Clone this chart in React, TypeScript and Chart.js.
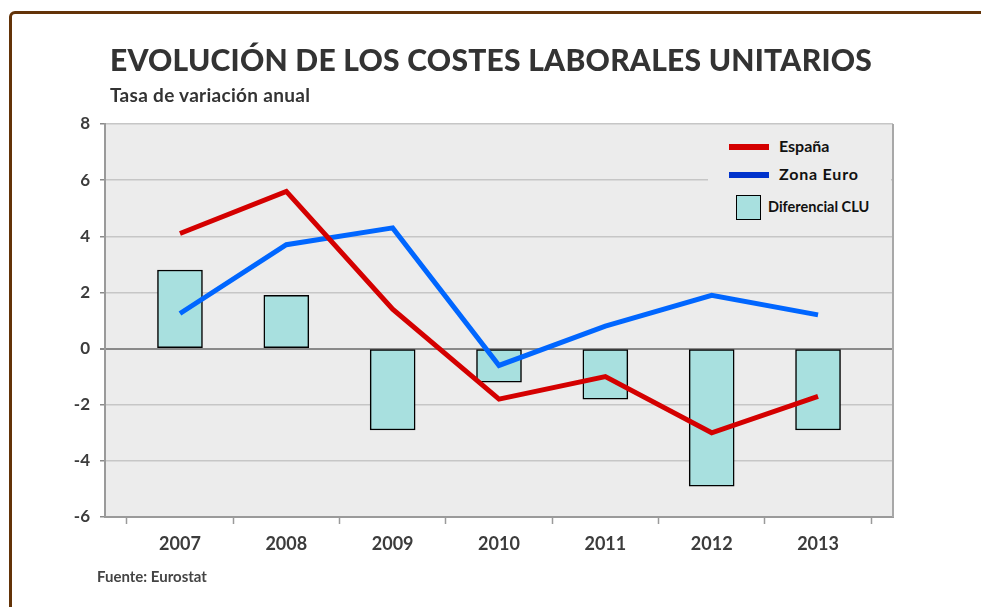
import React, { useEffect, useRef } from 'react';
import { Chart, registerables } from 'chart.js';

Chart.register(...registerables);

const years = ['2007', '2008', '2009', '2010', '2011', '2012', '2013'];
const espana = [4.1, 5.6, 1.4, -1.8, -1.0, -3.0, -1.7];
const zonaEuro = [1.25, 3.7, 4.3, -0.6, 0.8, 1.9, 1.2];
const diferencial = [2.8, 1.9, -2.9, -1.2, -1.8, -4.9, -2.9];
const yTickValues = [-6, -4, -2, 0, 2, 4, 6, 8];

const FONT = 'Lato, "Open Sans", sans-serif';
const TEXT = '#3c3c3c';

const plotBg = {
  id: 'plotBg',
  beforeDraw(chart: any) {
    const { ctx, chartArea: a } = chart;
    ctx.save();
    ctx.fillStyle = '#ececec';
    ctx.fillRect(a.left, a.top, a.right - a.left, a.bottom - a.top);
    ctx.restore();
  },
  afterDraw(chart: any) {
    const { ctx, chartArea: a } = chart;
    ctx.save();
    ctx.strokeStyle = '#a8a8a8';
    ctx.lineWidth = 2;
    ctx.beginPath();
    ctx.moveTo(a.right, a.top);
    ctx.lineTo(a.right, a.bottom);
    ctx.stroke();
    ctx.restore();
  },
};

function ChartCanvas() {
  const ref = useRef<HTMLCanvasElement | null>(null);
  useEffect(() => {
    if (!ref.current) return;
    const xTicks: number[] = [];
    for (let i = -0.5; i <= years.length - 0.5; i += 0.5) xTicks.push(i);
    const chart = new Chart(ref.current, {
      type: 'bar',
      data: {
        datasets: [
          {
            type: 'line',
            label: 'España',
            data: espana.map((v, i) => ({ x: i, y: v })),
            borderColor: '#d40000',
            borderWidth: 5,
            pointRadius: 0,
            tension: 0,
            borderCapStyle: 'butt',
            order: 0,
          } as any,
          {
            type: 'line',
            label: 'Zona Euro',
            data: zonaEuro.map((v, i) => ({ x: i, y: v })),
            borderColor: '#0066ff',
            borderWidth: 5,
            pointRadius: 0,
            tension: 0,
            borderCapStyle: 'butt',
            order: 1,
          } as any,
          {
            type: 'bar',
            label: 'Diferencial CLU',
            data: diferencial.map((v, i) => ({ x: i, y: v })),
            backgroundColor: '#a8e0df',
            borderColor: '#000000',
            borderWidth: 1.5,
            borderSkipped: false,
            barThickness: 45,
            grouped: false,
            order: 2,
          } as any,
        ],
      },
      options: {
        animation: false,
        responsive: true,
        maintainAspectRatio: false,
        layout: { padding: { left: 0, top: 124, right: 88, bottom: 0 } },
        plugins: {
          legend: { display: false },
          title: { display: false },
          tooltip: { enabled: false },
        },
        scales: {
          x: {
            type: 'linear',
            min: -0.705,
            max: years.length - 1 + 0.705,
            offset: false,
            afterBuildTicks: (s: any) => {
              s.ticks = xTicks.map((v) => ({ value: v }));
            },
            afterFit: (s: any) => {
              s.height = 90;
            },
            grid: {
              offset: false,
              drawOnChartArea: false,
              drawTicks: true,
              tickLength: 7,
              tickWidth: 1.5,
              tickColor: (c: any) =>
                c.tick && Number.isInteger(c.tick.value) ? 'rgba(0,0,0,0)' : '#9a9a9a',
            },
            border: { display: true, color: '#9a9a9a', width: 2 },
            ticks: {
              autoSkip: false,
              maxRotation: 0,
              padding: 9,
              color: TEXT,
              font: { family: FONT, weight: 'bold', size: 18 },
              callback: (v: any) => (Number.isInteger(v) ? years[v] : ''),
            },
          },
          y: {
            type: 'linear',
            min: -6,
            max: 8,
            afterBuildTicks: (s: any) => {
              s.ticks = yTickValues.map((v) => ({ value: v }));
            },
            afterFit: (s: any) => {
              s.width = 105;
            },
            grid: {
              color: (c: any) => (c.tick && c.tick.value === 0 ? '#8a8a8a' : '#c6c6c6'),
              lineWidth: (c: any) => (c.tick && c.tick.value === 0 ? 2 : 1.5),
              tickColor: '#8a8a8a',
              tickLength: 5,
              drawTicks: true,
            },
            border: { display: true, color: '#9a9a9a', width: 2 },
            ticks: {
              padding: 10,
              color: TEXT,
              font: { family: FONT, weight: 'bold', size: 17 },
            },
          },
        },
      },
      plugins: [plotBg],
    } as any);
    return () => chart.destroy();
  }, []);
  return <canvas ref={ref} />;
}

export default function App() {
  const abs = (o: any): React.CSSProperties => ({ position: 'absolute', margin: 0, whiteSpace: 'nowrap', ...o });
  return (
    <div
      style={{
        position: 'fixed',
        left: 0,
        top: 0,
        width: 981,
        height: 607,
        background: '#fff',
        overflow: 'hidden',
        fontFamily: FONT,
      }}
    >
      <div
        style={abs({
          left: 9,
          top: 11,
          width: 1100,
          height: 800,
          border: '3px solid #633308',
          borderRadius: 6,
          boxSizing: 'border-box',
        })}
      />
      <div style={abs({ left: 0, top: 0, width: 981, height: 607 })}>
        <ChartCanvas />
      </div>
      <div
        style={abs({
          left: 110,
          top: 44,
          fontSize: 30,
          lineHeight: 1,
          fontWeight: 900,
          letterSpacing: 0.25,
          color: '#333',
        })}
      >
        EVOLUCIÓN DE LOS COSTES LABORALES UNITARIOS
      </div>
      <div
        style={abs({
          left: 110,
          top: 85,
          fontSize: 19,
          lineHeight: 1,
          fontWeight: 700,
          letterSpacing: 0.3,
          color: '#333',
        })}
      >
        Tasa de variación anual
      </div>
      <div
        style={abs({
          left: 97,
          top: 569,
          fontSize: 15,
          lineHeight: 1,
          fontWeight: 700,
          color: '#444',
        })}
      >
        Fuente: Eurostat
      </div>
      <div style={abs({ left: 708, top: 126, width: 183, height: 106, background: '#ececec' })}>
        <div style={abs({ left: 21, top: 18, width: 40, height: 6, background: '#d40000' })} />
        <div style={abs({ left: 71, top: 12, fontSize: 16, lineHeight: 1, fontWeight: 700, color: '#111' })}>
          España
        </div>
        <div style={abs({ left: 21, top: 46, width: 40, height: 6, background: '#0033cc' })} />
        <div style={abs({ left: 71, top: 40, fontSize: 16, lineHeight: 1, fontWeight: 700, letterSpacing: 0.8, color: '#111' })}>
          Zona Euro
        </div>
        <div
          style={abs({
            left: 28,
            top: 69,
            width: 25,
            height: 25,
            background: '#a8e0df',
            border: '1.5px solid #000',
            boxSizing: 'border-box',
          })}
        />
        <div style={abs({ left: 60, top: 74, fontSize: 14.5, lineHeight: 1, fontWeight: 700, color: '#111' })}>
          Diferencial CLU
        </div>
      </div>
    </div>
  );
}
